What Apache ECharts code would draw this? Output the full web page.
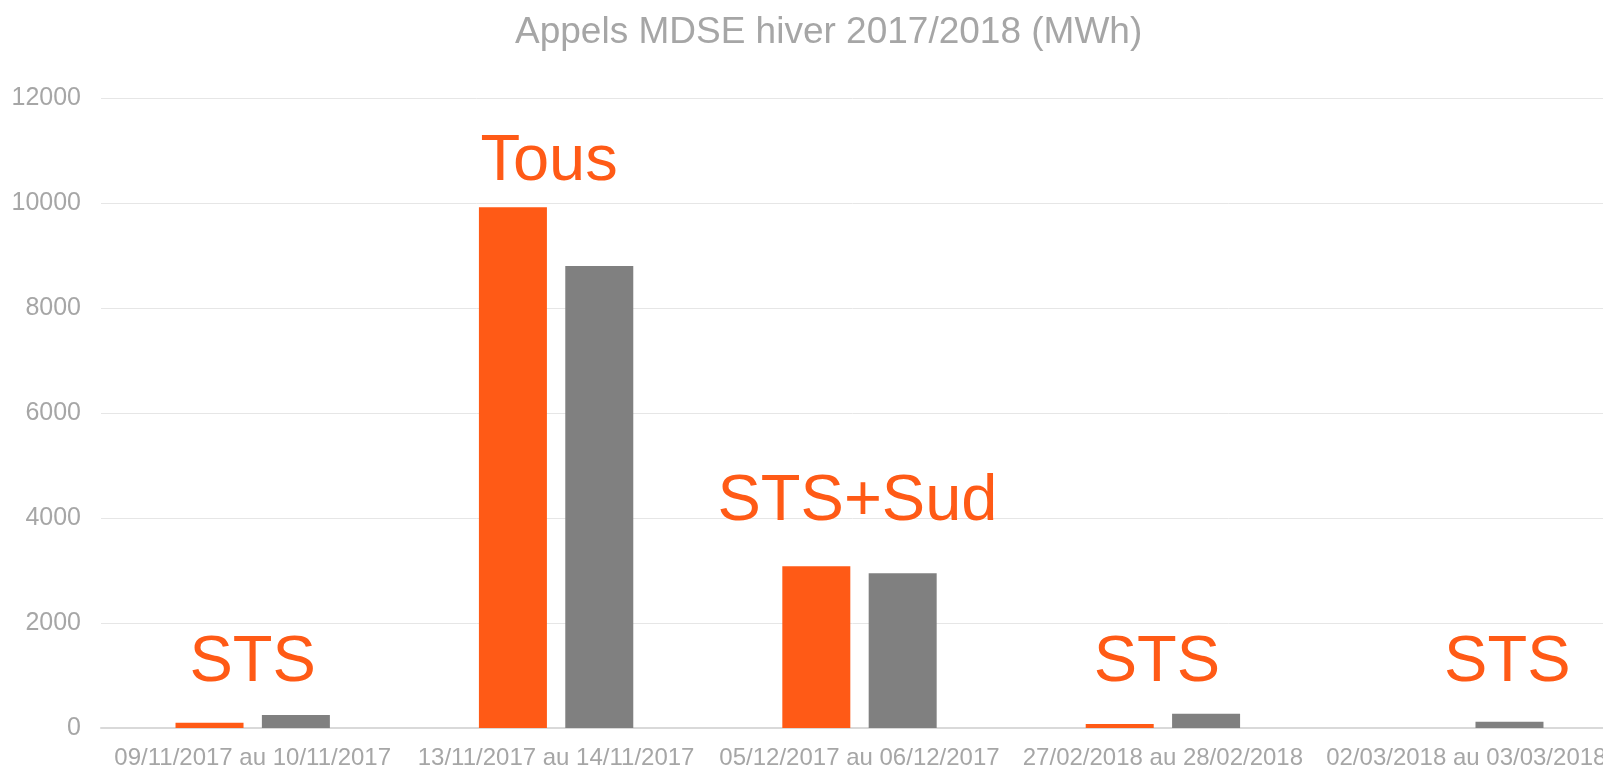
<!DOCTYPE html>
<html>
<head>
<meta charset="utf-8">
<script src="https://cdn.jsdelivr.net/npm/echarts@6/dist/echarts.min.js"></script>
<style>html,body{margin:0;padding:0;background:#fff}#c{width:1603px;height:769px}</style>
</head>
<body>
<div id="c"></div>
<script>
const categories = ['09/11/2017 au 10/11/2017','13/11/2017 au 14/11/2017','05/12/2017 au 06/12/2017','27/02/2018 au 28/02/2018','02/03/2018 au 03/03/2018'];
const seriesOrange = [100, 9920, 3080, 75, 0];
const seriesGray = [250, 8800, 2950, 270, 120];
const yTicks = [0, 2000, 4000, 6000, 8000, 10000, 12000];
const annoTexts = ['STS', 'Tous', 'STS+Sud', 'STS', 'STS'];
const annoValues = [1240, 10780, 4300, 1240, 1240];

const labelShift = [0, -7, -2, -6, 41];
const chart = echarts.init(document.getElementById('c'));
const FONT = '"Liberation Sans", Arial, sans-serif';
chart.setOption({
  animation: false,
  title: {
    text: 'Appels MDSE hiver 2017/2018 (MWh)',
    left: 510, top: 9,
    textStyle: {color: '#a6a6a6', fontSize: 37, fontWeight: 'normal', fontFamily: FONT}
  },
  grid: {left: 101, width: 1517, top: 98, bottom: 41, containLabel: false, outerBoundsMode: 'none'},
  xAxis: {
    type: 'category', data: categories,
    axisTick: {show: false},
    axisLine: {lineStyle: {color: '#d9d9d9', width: 2}},
    axisLabel: {color: '#a6a6a6', fontSize: 24, fontFamily: FONT, margin: 18, interval: 0}
  },
  yAxis: {
    type: 'value', min: yTicks[0], max: yTicks[yTicks.length-1], interval: 2000,
    axisLine: {show: false}, axisTick: {show: false},
    splitLine: {lineStyle: {color: '#e6e6e6', width: 1}},
    axisLabel: {color: '#a6a6a6', fontSize: 25, fontFamily: FONT, margin: 20, formatter: v => String(v)}
  },
  series: [
    {type: 'bar', data: seriesOrange, barWidth: 68, barGap: '27%', itemStyle: {color: '#ff5a16'}},
    {type: 'bar', data: seriesGray, barWidth: 68, itemStyle: {color: '#808080'}},
    {type: 'scatter', symbolSize: 0, silent: true, z: 10, itemStyle: {opacity: 1},
     data: annoTexts.map((t, i) => ({
       value: [categories[i], annoValues[i]],
       label: {show: true, position: 'inside', formatter: t, offset: [labelShift[i], 0],
               color: '#ff5a16', opacity: 1, fontSize: 65, fontFamily: FONT}
     }))}
  ]
});
</script>
</body>
</html>
